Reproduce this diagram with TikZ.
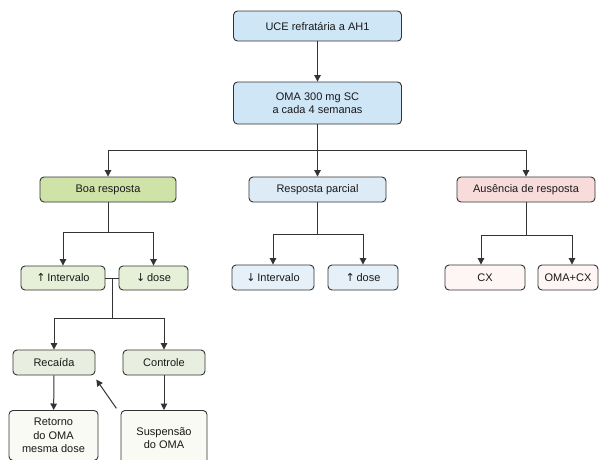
\documentclass[tikz,border=0pt]{standalone}
\usepackage{fontspec}
\setmainfont{Liberation Sans}
\newfontfamily\arrowfont{DejaVu Sans}
\usetikzlibrary{arrows.meta}
\definecolor{lineC}{HTML}{333333}
\definecolor{topblue}{HTML}{CFE6F7}
\definecolor{boagreen}{HTML}{CFE3A8}
\definecolor{lightgreen}{HTML}{E6F0D8}
\definecolor{palegreen}{HTML}{E9EFE0}
\definecolor{whitegreen}{HTML}{F8FAF3}
\definecolor{lightblue}{HTML}{DDEBF7}
\definecolor{paleblue}{HTML}{E6F0F9}
\definecolor{pink}{HTML}{F8DCDC}
\definecolor{palepink}{HTML}{FDF6F4}
\tikzset{
  box/.style={draw=lineC, line width=0.9pt, rounded corners=4pt, align=center,
    font=\fontsize{11}{13.2}\selectfont, inner sep=2pt, text=black!90},
  arr/.style={draw=lineC, line width=1pt, -{Triangle[width=6.5pt,length=6.5pt]}},
  ln/.style={draw=lineC, line width=1pt},
}
\begin{document}
\begin{tikzpicture}[x=1pt,y=-1pt]
\useasboundingbox (0,0) rectangle (600,459);
\clip (0,0) rectangle (600,459);
\fill[white] (0,0) rectangle (600,459);

\node[box, fill=topblue, minimum width=168pt, minimum height=30pt] (top) at (317.5,26) {UCE refratária a AH1};
\node[box, fill=topblue, minimum width=168pt, minimum height=42pt] (oma) at (317.5,103) {OMA 300 mg SC\\a cada 4 semanas};

\node[box, fill=boagreen, minimum width=136pt, minimum height=25pt] (boa) at (108,189.5) {Boa resposta};
\node[box, fill=lightblue, minimum width=137pt, minimum height=25pt] (parcial) at (317.5,189.5) {Resposta parcial};
\node[box, fill=pink, minimum width=138pt, minimum height=25pt] (aus) at (526,189.5) {Ausência de resposta};

\node[box, fill=lightgreen, minimum width=84pt, minimum height=24pt] (upint) at (63,278) {{\arrowfont\textuparrow}\,Intervalo};
\node[box, fill=lightgreen, minimum width=69pt, minimum height=24pt] (dose) at (153.5,278) {{\arrowfont\textdownarrow}\,dose};

\node[box, fill=paleblue, minimum width=82pt, minimum height=25pt] (dnint) at (273,277.5) {{\arrowfont\textdownarrow}\,Intervalo};
\node[box, fill=paleblue, minimum width=70pt, minimum height=25pt] (updose) at (363,277.5) {{\arrowfont\textuparrow}\,dose};

\node[box, fill=palepink, minimum width=80pt, minimum height=25pt] (cx) at (485,277.5) {CX};
\node[box, fill=palepink, minimum width=60pt, minimum height=25pt] (omacx) at (568,277.5) {OMA+CX};

\node[box, fill=palegreen, minimum width=82pt, minimum height=25pt] (rec) at (54,362.5) {Recaída};
\node[box, fill=palegreen, minimum width=82pt, minimum height=25pt] (con) at (164,362.5) {Controle};

\node[box, fill=whitegreen, minimum width=89pt, minimum height=50pt, anchor=north] (ret) at (53.5,410) {Retorno\\do OMA\\mesma dose};
\node[box, fill=whitegreen, minimum width=86pt, minimum height=55pt, anchor=north] (sus) at (164,410) {Suspensão\\do OMA};

\coordinate (j1) at (317.5,150);
\coordinate (j2) at (108,232);
\coordinate (j3) at (317.5,234);
\coordinate (j4) at (526,235);
\coordinate (m) at (112,278);
\coordinate (j5) at (112,318);

\draw[arr] (top) -- (oma);
\draw[ln] (oma) -- (j1);
\draw[arr] (j1) -| (boa.north);
\draw[arr] (j1) -- (parcial.north);
\draw[arr] (j1) -| (aus.north);

\draw[ln] (boa) -- (j2);
\draw[arr] (j2) -| (upint.north);
\draw[arr] (j2) -| (dose.north);

\draw[ln] (parcial) -- (j3);
\draw[arr] (j3) -| (dnint.north);
\draw[arr] (j3) -| (updose.north);

\draw[ln] (aus) -- (j4);
\draw[arr] (j4) -| ([xshift=-4pt]cx.north);
\draw[arr] (j4) -| ([xshift=4pt]omacx.north);

\draw[ln] (upint.east) -- (dose.west);
\draw[ln] (m) -- (j5);
\draw[arr] (j5) -| (rec.north);
\draw[arr] (j5) -| (con.north);

\draw[arr] (rec) -- (ret);
\draw[arr] (con) -- (sus);
\draw[arr, shorten <=2pt, shorten >=5pt] ([xshift=-3pt]sus.north west) -- ([xshift=-2pt]rec.south east);
\end{tikzpicture}
\end{document}
